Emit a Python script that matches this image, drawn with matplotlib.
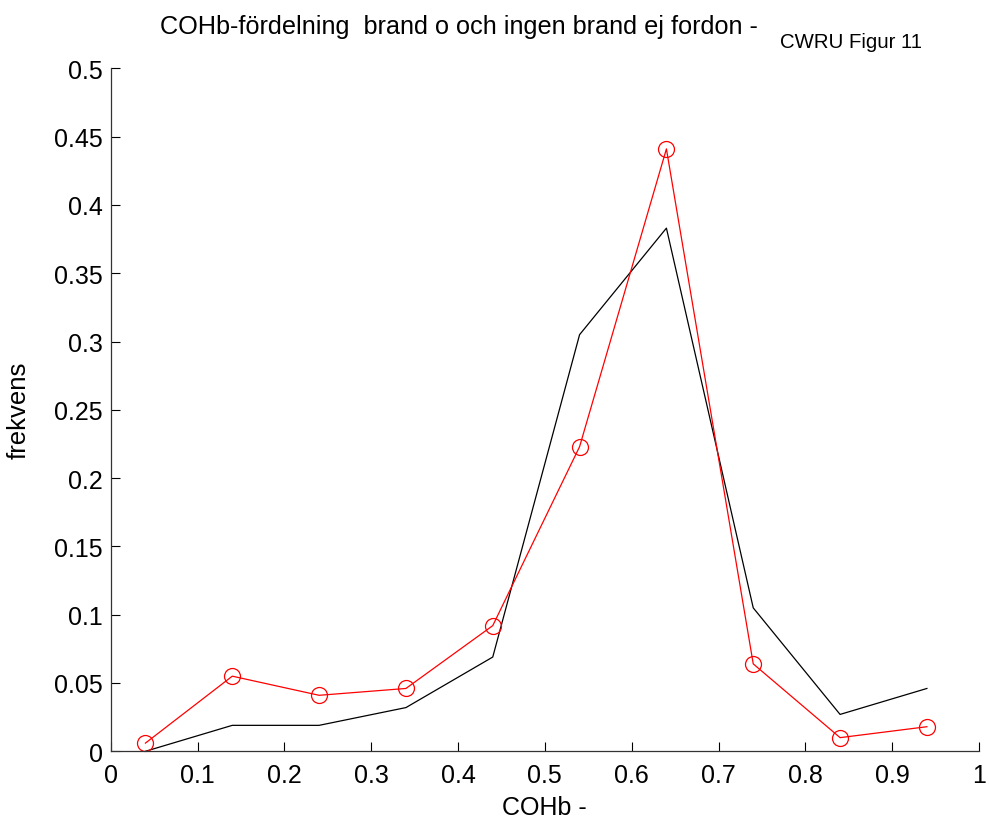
import matplotlib
matplotlib.use("Agg")
import matplotlib.pyplot as plt

plt.rcParams['font.family'] = ['Liberation Sans', 'DejaVu Sans']

x_vals = [0.04, 0.14, 0.24, 0.34, 0.44, 0.54, 0.64, 0.74, 0.84, 0.94]
brand_vals = [0.0, 0.019, 0.019, 0.032, 0.069, 0.305, 0.383, 0.105, 0.027, 0.046]
ingen_vals = [0.006, 0.055, 0.041, 0.046, 0.092, 0.223, 0.441, 0.064, 0.010, 0.018]
x_ticks = [0, 0.1, 0.2, 0.3, 0.4, 0.5, 0.6, 0.7, 0.8, 0.9, 1]
x_tick_labels = ['0', '0.1', '0.2', '0.3', '0.4', '0.5', '0.6', '0.7', '0.8', '0.9', '1']
y_ticks = [0, 0.05, 0.1, 0.15, 0.2, 0.25, 0.3, 0.35, 0.4, 0.45, 0.5]
y_tick_labels = ['0', '0.05', '0.1', '0.15', '0.2', '0.25', '0.3', '0.35', '0.4', '0.45', '0.5']
title_main = 'COHb-fördelning  brand o och ingen brand ej fordon -'
title_sub = 'CWRU Figur 11'
x_label = 'COHb -'
y_label = 'frekvens'

W, H = 989, 820
fig = plt.figure(figsize=(W / 100, H / 100), dpi=100)
ax = fig.add_axes([110.7 / W, 1 - 752.3 / H, (979 - 110.7) / W, (752.3 - 69.3) / H])

ax.plot(x_vals, brand_vals, color='black', linewidth=0.9)
ax.plot(x_vals, ingen_vals, color='#ff0000', linewidth=0.9, marker='o',
        markersize=11.5, markerfacecolor='none', markeredgecolor='#ff0000',
        markeredgewidth=0.9, clip_on=False)

ax.set_xlim(0, 1)
ax.set_ylim(0, 0.5)
ax.set_xticks(x_ticks)
ax.set_xticklabels(x_tick_labels)
ax.set_yticks(y_ticks)
ax.set_yticklabels(y_tick_labels)
ax.tick_params(axis='both', direction='in', length=6.5, width=0.8, labelsize=18, colors='black')
ax.tick_params(axis='x', pad=8.5)
ax.tick_params(axis='y', pad=5.5)
for s in ['top', 'right']:
    ax.spines[s].set_visible(False)
for s in ['left', 'bottom']:
    ax.spines[s].set_linewidth(0.9)
    ax.spines[s].set_color('#333333')

ax.set_xlabel(x_label, fontsize=18)
ax.set_ylabel(y_label, fontsize=18.5)
ax.xaxis.set_label_coords(0.5, -0.064)
ax.yaxis.set_label_coords(-0.092, 0.5)

fig.text(160 / W, 1 - 34.3 / H, title_main, fontsize=18.2, ha='left', va='baseline')
fig.text(780 / W, 1 - 48.3 / H, title_sub, fontsize=14.7, ha='left', va='baseline')

fig.savefig('out.png', dpi=100)
